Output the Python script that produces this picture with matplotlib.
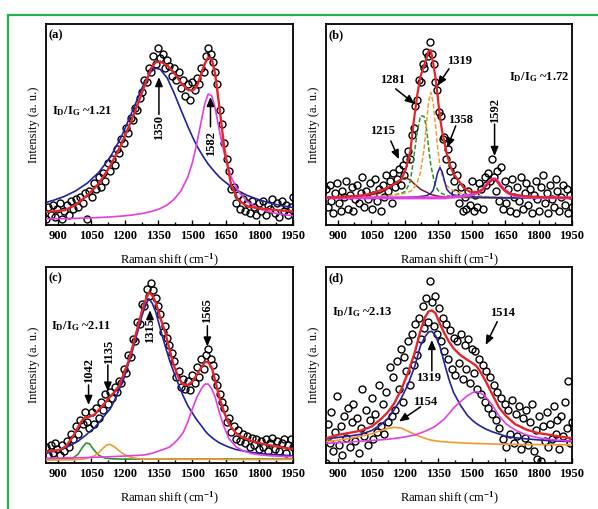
import numpy as np
import matplotlib.pyplot as plt
from matplotlib.patches import Rectangle

plt.rcParams["font.family"] = ["Liberation Serif", "DejaVu Serif"]
plt.rcParams["font.weight"] = "bold"
plt.rcParams["font.size"] = 9
plt.rcParams["mathtext.fontset"] = "custom"
plt.rcParams["mathtext.rm"] = "Liberation Serif:bold"
plt.rcParams["mathtext.it"] = "Liberation Serif:bold"
plt.rcParams["mathtext.bf"] = "Liberation Serif:bold"

# ---------------- panel (a) ----------------
counts_a = [3, 9, 5, 10, 4, 8, 11, 3, 7, 10,
            5, 12, 8, 13, 9, 14, 11, 16, 3, 17,
            14, 21, 18, 24, 19, 26, 22, 31, 27, 33,
            30, 38, 36, 43, 41, 48, 46, 53, 52, 58,
            57, 63, 66, 72, 71, 78, 76, 84, 80, 88,
            83, 85, 78, 82, 79, 74, 78, 72, 76, 68,
            72, 64, 70, 62, 71, 67, 73, 70, 78, 76,
            84, 88, 85, 81, 76, 70, 57, 50, 41, 33,
            27, 18, 19, 11, 15, 8, 13, 7, 11, 6,
            12, 9, 5, 11, 7, 12, 5, 10, 8, 13,
            6, 11, 4, 12, 7, 10, 5, 9, 14]
fit_x_a = [848, 879, 930, 981, 1032, 1083, 1134, 1185, 1236, 1287, 1317, 1338, 1358,
           1389, 1419, 1450, 1481, 1501, 1521, 1542, 1557, 1572, 1588, 1603, 1623,
           1644, 1674, 1705, 1746, 1797, 1848, 1899, 1950]
d_band_a = [11.2, 12.2, 14.2, 17.0, 20.8, 26.1, 33.6, 44.0, 57.3, 70.9, 76.4, 78.0, 77.4,
            73.1, 65.8, 57.3, 49.0, 44.0, 39.4, 35.4, 32.7, 30.3, 28.1, 26.1, 23.7,
            21.7, 19.1, 17.0, 14.7, 12.6, 10.9, 9.6, 8.7]
g_band_a = [3.1, 3.1, 3.2, 3.3, 3.5, 3.7, 4.0, 4.4, 5.0, 5.9, 6.7, 7.4, 8.2,
            10.0, 12.7, 16.9, 23.9, 30.9, 40.6, 52.3, 60.5, 65.2, 64.2, 58.0, 46.3,
            35.4, 23.9, 16.9, 11.6, 8.2, 6.4, 5.3, 4.6]
total_a = [6.5, 6.8, 7.3, 10.0, 14.7, 20.5, 29.2, 40.3, 53.8, 69.0, 78.0, 81.0, 81.3,
           79.4, 75.8, 70.8, 67.2, 66.8, 68.8, 75.5, 80.3, 83.4, 82.4, 75.0, 57.5,
           38.0, 20.0, 12.5, 9.3, 8.2, 7.7, 7.2, 6.8]

# ---------------- panel (b) ----------------
counts_b = [18, 9, 20, 12, 6, 16, 21, 11, 7, 17,
            14, 22, 8, 15, 19, 7, 13, 20, 11, 16,
            24, 9, 17, 13, 21, 8, 15, 23, 12, 18,
            7, 20, 14, 25, 17, 22, 11, 26, 19, 23,
            28, 20, 30, 25, 33, 37, 33, 45, 48, 59,
            62, 72, 71, 80, 78, 86, 84, 91, 85, 80,
            71, 67, 56, 54, 43, 44, 33, 38, 27, 30,
            22, 16, 25, 11, 19, 7, 14, 8, 17, 10,
            22, 7, 15, 9, 21, 18, 8, 24, 20, 26,
            22, 33, 24, 17, 27, 12, 29, 8, 22, 11,
            18, 7, 23, 14, 6, 19, 12, 24, 8, 16,
            21, 10, 18, 6, 15, 22, 13, 7, 19, 25,
            11, 16, 6, 20, 13, 9, 23, 17, 7, 14,
            20, 10, 18, 6, 15, 9]
fit_x_b = [848, 899, 950, 1001, 1052, 1083, 1113, 1144, 1164, 1185, 1205, 1226, 1241,
           1256, 1271, 1287, 1297, 1307, 1317, 1328, 1338, 1348, 1358, 1368, 1379,
           1389, 1404, 1419, 1440, 1465, 1491, 1521, 1547, 1567, 1583, 1593, 1603,
           1613, 1628, 1644, 1669, 1695, 1746, 1797, 1848, 1899, 1950]
peak1215_b = [13.9, 14.1, 14.4, 14.7, 15.1, 15.8, 17.2, 19.5, 21.4, 22.9, 23.5, 22.3, 20.7,
              19.3, 17.8, 16.9, 16.4, 15.8, 15.2, 14.9, 14.6, 14.4, 14.2, 14.1, 14.0,
              13.9, 13.9, 13.8, 13.8, 13.7, 13.7, 13.6, 13.6, 13.6, 13.6, 13.6, 13.6,
              13.6, 13.5, 13.5, 13.5, 13.5, 13.5, 13.5, 13.5, 13.5, 13.5]
peak1281_b = [13.5, 13.6, 13.7, 13.8, 14.0, 14.2, 14.4, 14.8, 15.2, 15.7, 16.8, 22.0, 33.5,
              46.0, 54.3, 54.0, 49.0, 39.0, 30.0, 24.0, 19.8, 17.5, 16.3, 15.6, 15.1,
              14.7, 14.3, 14.1, 13.9, 13.8, 13.7, 13.7, 13.6, 13.6, 13.6, 13.6, 13.6,
              13.6, 13.5, 13.5, 13.5, 13.5, 13.5, 13.5, 13.5, 13.5, 13.5]
peak1319_b = [13.5, 13.6, 13.7, 13.8, 14.0, 14.2, 14.4, 14.8, 15.1, 15.4, 15.9, 16.8, 18.3,
              21.0, 26.0, 37.7, 49.0, 61.0, 66.0, 61.0, 50.0, 38.5, 29.5, 24.5, 21.3,
              19.5, 18.0, 16.9, 16.0, 15.4, 15.0, 14.6, 14.4, 14.2, 14.1, 14.0, 14.0,
              13.9, 13.9, 13.8, 13.7, 13.7, 13.6, 13.6, 13.5, 13.5, 13.5]
peak1358_b = [13.5, 13.5, 13.5, 13.5, 13.5, 13.6, 13.6, 13.6, 13.6, 13.7, 13.7, 13.8, 13.9,
              14.0, 14.2, 14.4, 14.6, 15.0, 15.7, 17.3, 21.2, 26.0, 28.5, 26.5, 21.8,
              17.7, 15.8, 15.0, 14.6, 14.3, 14.1, 13.9, 13.8, 13.7, 13.7, 13.6, 13.6,
              13.6, 13.6, 13.6, 13.5, 13.5, 13.5, 13.5, 13.5, 13.5, 13.5]
peak1592_b = [13.5, 13.5, 13.5, 13.5, 13.5, 13.5, 13.5, 13.5, 13.5, 13.5, 13.5, 13.5, 13.5,
              13.5, 13.5, 13.5, 13.5, 13.5, 13.5, 13.5, 13.5, 13.5, 13.5, 13.5, 13.5,
              13.7, 13.8, 13.9, 14.1, 14.4, 14.7, 15.8, 17.5, 20.2, 22.0, 22.8, 23.0,
              22.3, 20.0, 17.8, 15.5, 14.6, 13.9, 13.7, 13.6, 13.5, 13.5]
total_b = [13.5, 13.8, 14.1, 14.5, 15.7, 16.9, 18.0, 19.7, 21.0, 22.7, 27.7, 37.0, 51.5,
           64.3, 73.8, 79.3, 82.6, 86.5, 87.0, 80.5, 73.5, 64.0, 54.0, 46.5, 40.8,
           35.5, 29.5, 25.5, 22.3, 18.5, 16.6, 16.3, 17.3, 19.8, 21.6, 22.5, 22.7,
           21.9, 19.5, 17.5, 15.8, 15.0, 14.2, 13.9, 13.7, 13.6, 13.5]

# ---------------- panel (c) ----------------
counts_c = [8, 4, 9, 5, 10, 7, 4, 9, 6, 11,
            8, 15, 12, 19, 15, 22, 20, 26, 21, 18,
            26, 20, 28, 23, 31, 27, 35, 30, 36, 33,
            39, 36, 42, 41, 48, 46, 55, 54, 63, 62,
            72, 71, 81, 80, 89, 85, 92, 88, 84, 80,
            76, 67, 70, 64, 60, 56, 52, 44, 47, 39,
            43, 38, 42, 37, 45, 41, 49, 44, 53, 48,
            55, 58, 53, 50, 44, 40, 35, 31, 28, 21,
            23, 16, 19, 12, 17, 11, 15, 10, 14, 8,
            13, 9, 12, 7, 11, 8, 12, 6, 10, 13,
            7, 11, 6, 10, 12, 5, 9, 12, 8]
fit_x_c = [848, 879, 909, 940, 970, 991, 1011, 1027, 1042, 1062, 1083, 1103, 1118,
           1134, 1154, 1175, 1195, 1215, 1236, 1256, 1276, 1292, 1307, 1322, 1338,
           1358, 1379, 1399, 1419, 1440, 1460, 1481, 1501, 1521, 1542, 1557, 1572,
           1588, 1603, 1623, 1644, 1664, 1695, 1726, 1766, 1807, 1848, 1899, 1950]
peak1042_c = [2.0, 2.0, 2.0, 2.1, 2.6, 4.5, 8.0, 10.2, 9.8, 6.6, 4.0, 2.8, 2.4,
              2.2, 2.1, 2.0, 2.0, 2.0, 2.0, 2.0, 2.0, 2.0, 2.0, 2.0, 2.0,
              2.0, 2.0, 2.0, 2.0, 2.0, 2.0, 2.0, 2.0, 2.0, 2.0, 2.0, 2.0,
              2.0, 2.0, 2.0, 2.0, 2.0, 2.0, 2.0, 2.0, 2.0, 2.0, 2.0, 2.0]
peak1135_c = [1.5, 1.5, 1.6, 1.6, 1.7, 1.8, 2.0, 2.3, 2.8, 3.5, 5.2, 7.6, 9.1,
              9.5, 8.2, 6.2, 4.5, 3.4, 2.7, 2.3, 2.1, 2.0, 2.0, 2.0, 2.0,
              2.0, 2.0, 1.9, 1.9, 1.9, 1.9, 1.9, 1.9, 1.9, 1.9, 1.9, 1.9,
              1.9, 1.9, 1.9, 1.8, 1.8, 1.8, 1.8, 1.8, 1.8, 1.8, 1.8, 1.8]
d_band_c = [4.9, 5.8, 6.8, 8.0, 9.8, 11.1, 12.9, 14.3, 15.9, 17.7, 20.4, 23.3, 25.4,
            27.5, 32.0, 37.6, 43.0, 50.3, 58.2, 66.5, 75.0, 80.5, 83.8, 81.5, 77.0,
            68.5, 60.0, 52.5, 46.0, 40.0, 34.2, 29.2, 25.5, 22.0, 18.9, 16.5, 14.6,
            13.0, 11.7, 10.2, 9.1, 8.1, 6.9, 6.2, 5.4, 4.8, 4.4, 4.0, 3.7]
g_band_c = [2.4, 2.5, 2.5, 2.6, 2.6, 2.7, 2.7, 2.8, 2.8, 2.9, 3.0, 3.0, 3.1,
            3.2, 3.3, 3.4, 3.5, 3.7, 3.8, 3.9, 4.0, 4.2, 4.6, 5.0, 5.6,
            6.4, 7.2, 8.1, 10.0, 12.5, 15.5, 21.0, 27.5, 33.5, 38.0, 40.2, 40.3,
            37.8, 33.5, 25.2, 18.0, 12.5, 8.3, 6.3, 4.8, 4.1, 3.7, 3.4, 3.2]
total_c = [5.8, 6.2, 6.6, 8.8, 13.8, 18.3, 22.0, 23.5, 23.6, 24.5, 27.0, 29.6, 31.7,
           33.8, 36.2, 39.5, 45.5, 51.5, 60.0, 68.7, 77.5, 83.0, 87.0, 85.5, 82.0,
           74.0, 67.0, 58.0, 49.5, 43.5, 40.0, 39.8, 41.5, 45.0, 49.0, 51.5, 51.5,
           48.5, 42.0, 33.0, 25.5, 20.0, 15.3, 13.0, 11.2, 10.0, 9.0, 8.0, 7.1]

# ---------------- panel (d) ----------------
counts_d = [0, 20, 10, 26, 6, 16, 34, 9, 19, 4,
            24, 13, 28, 8, 21, 30, 11, 23, 5, 18,
            38, 14, 27, 9, 22, 33, 12, 25, 16, 40,
            19, 30, 15, 36, 21, 49, 24, 44, 27, 52,
            38, 58, 31, 54, 47, 62, 40, 66, 50, 71,
            55, 74, 63, 80, 69, 84, 72, 93, 82, 70,
            85, 66, 79, 62, 74, 57, 71, 53, 68, 48,
            64, 45, 62, 51, 66, 43, 60, 48, 63, 41,
            58, 46, 57, 38, 53, 35, 50, 31, 47, 28,
            44, 25, 40, 22, 36, 18, 33, 12, 30, 8,
            27, 15, 32, 10, 25, 14, 29, 7, 23, 13,
            27, 9, 21, 30, 6, 17, 2, 24, 1, 19,
            11, 26, 8, 20, 12, 29, 15, 22, 7, 24,
            14, 31, 18, 42, 10, 21]
fit_x_d = [848, 899, 950, 1001, 1052, 1093, 1124, 1154, 1185, 1215, 1246, 1271, 1292,
           1307, 1322, 1338, 1358, 1379, 1399, 1419, 1450, 1481, 1506, 1521, 1537,
           1562, 1593, 1623, 1654, 1695, 1746, 1797, 1848, 1899, 1950]
peak1154_d = [10.9, 11.6, 12.4, 13.6, 14.9, 16.5, 17.6, 18.2, 17.8, 16.2, 14.6, 13.4, 12.6,
              12.0, 11.6, 11.3, 11.0, 10.8, 10.6, 10.5, 10.3, 10.1, 10.0, 9.9, 9.9,
              9.8, 9.7, 9.6, 9.6, 9.5, 9.4, 9.4, 9.3, 9.3, 9.2]
d_band_d = [12.2, 13.0, 13.7, 14.6, 16.5, 19.5, 22.5, 27.3, 33.0, 40.0, 49.5, 59.8, 64.5,
            66.8, 67.2, 65.0, 59.5, 50.5, 42.5, 36.0, 29.5, 24.3, 21.5, 20.2, 19.0,
            17.4, 15.9, 14.8, 13.6, 12.9, 12.3, 11.8, 11.4, 11.1, 10.9]
g_band_d = [10.0, 10.3, 10.7, 11.1, 11.5, 11.8, 12.1, 12.5, 13.0, 13.6, 14.3, 15.3, 16.2,
            17.0, 17.8, 18.8, 20.6, 22.6, 25.2, 28.0, 31.3, 34.3, 36.0, 36.4, 36.0,
            34.0, 29.5, 24.0, 20.0, 16.8, 14.3, 12.9, 12.0, 11.5, 11.2]
total_d = [12.6, 14.3, 15.3, 16.4, 18.6, 22.3, 25.8, 30.5, 37.5, 46.0, 56.5, 67.5, 74.5,
           77.3, 77.8, 76.5, 71.0, 66.0, 61.8, 58.5, 55.0, 52.6, 50.8, 49.5, 47.0,
           42.0, 35.0, 28.3, 24.0, 19.8, 17.0, 15.3, 14.4, 13.4, 12.6]

major_ticks = [900, 1050, 1200, 1350, 1500, 1650, 1800, 1950]
minor_ticks = [975, 1125, 1275, 1425, 1575, 1725, 1875]

RED = "#e3262b"
BLUE = "#22229c"
MAGENTA = "#e23fe0"
GREEN = "#2a952a"
ORANGE = "#f29a30"
BROWN = "#7a1d1d"


def setup(ax, tag):
    ax.set_xlim(848, 1950)
    ax.set_ylim(0, 100)
    ax.set_xticks(major_ticks)
    ax.set_xticks(minor_ticks, minor=True)
    ax.set_yticks([])
    ax.tick_params(axis="x", which="both", direction="in", labelsize=9, pad=3.5, width=1)
    ax.tick_params(axis="x", which="major", length=3.5)
    ax.tick_params(axis="x", which="minor", length=2)
    for sp in ax.spines.values():
        sp.set_linewidth(1.3)
    ax.set_xlabel("Raman shift (cm$^{-1}$)", fontsize=9, labelpad=7)
    ax.set_ylabel("Intensity (a. u.)", fontsize=9, labelpad=4)
    ax.text(0.012, 0.975, tag, transform=ax.transAxes, va="top", ha="left")


def scatter(ax, counts):
    shift = np.linspace(848, 1950, len(counts))
    ax.plot(shift, counts, "o", mfc="none", mec="black", ms=5, mew=1.0, zorder=2)


def arrow(ax, tip, tail):
    ax.annotate("", xy=tip, xytext=tail,
                arrowprops=dict(arrowstyle="-|>,head_length=0.6,head_width=0.25",
                                color="black", lw=1.1, shrinkA=0, shrinkB=0), zorder=6)


fig = plt.figure(figsize=(5.98, 5.09), dpi=100)
fig.add_artist(Rectangle((8 / 598, -0.1), 2.0, 0.1 + 1 - 15 / 509, transform=fig.transFigure,
                         fill=False, edgecolor="#22b14c", lw=1.6))

# (a)
ax = fig.add_axes([0.0769, 0.5580, 0.4130, 0.3949])
setup(ax, "(a)")
scatter(ax, counts_a)
ax.plot(fit_x_a, d_band_a, color=BLUE, lw=1.2, zorder=3)
ax.plot(fit_x_a, g_band_a, color=MAGENTA, lw=1.2, zorder=3)
ax.plot(fit_x_a, total_a, color=RED, lw=1.7, zorder=4)
ax.text(0.024, 0.567, "I$_{\\rm D}$/I$_{\\rm G}$ ~1.21", transform=ax.transAxes, va="center")
arrow(ax, (1352, 73.6), (1352, 55))
ax.text(1352, 48.3, "1350", rotation=90, ha="center", va="center")
arrow(ax, (1582, 63.7), (1582, 48.8))
ax.text(1585, 40.5, "1582", rotation=90, ha="center", va="center")

# (b)
ax = fig.add_axes([0.5452, 0.5580, 0.4114, 0.3949])
setup(ax, "(b)")
scatter(ax, counts_b)
ax.plot(fit_x_b, peak1215_b, color=BROWN, lw=1.1, zorder=3)
ax.plot(fit_x_b, peak1281_b, color=GREEN, lw=1.1, ls=(0, (3, 1.5)), zorder=3)
ax.plot(fit_x_b, peak1319_b, color=ORANGE, lw=1.1, ls=(0, (3, 1.5)), zorder=3)
ax.plot(fit_x_b, peak1358_b, color=BLUE, lw=1.1, zorder=3)
ax.plot(fit_x_b, peak1592_b, color=MAGENTA, lw=2.2, zorder=3)
ax.plot(fit_x_b, total_b, color=RED, lw=1.6, zorder=4)
ax.text(1668, 73.5, "I$_{\\rm D}$/I$_{\\rm G}$ ~1.72", va="center", ha="left")
ax.text(1100, 46.8, "1215", ha="center", va="center")
arrow(ax, (1175, 32.7), (1138, 41.8))
ax.text(1145, 72.3, "1281", ha="center", va="center")
arrow(ax, (1245, 60.2), (1160, 67.7))
ax.text(1444, 81.8, "1319", ha="center", va="center")
arrow(ax, (1347, 69.3), (1399, 77.7))
ax.text(1451, 52.3, "1358", ha="center", va="center")
arrow(ax, (1391, 38.5), (1429, 49.3))
ax.text(1603, 57, "1592", rotation=90, ha="center", va="center")
arrow(ax, (1603, 34.3), (1603, 50.2))

# (c)
ax = fig.add_axes([0.0769, 0.0904, 0.4130, 0.3851])
setup(ax, "(c)")
scatter(ax, counts_c)
ax.plot(fit_x_c, peak1042_c, color=GREEN, lw=1.2, zorder=3)
ax.plot(fit_x_c, peak1135_c, color=ORANGE, lw=1.2, zorder=3)
ax.plot(fit_x_c, d_band_c, color=BLUE, lw=1.2, zorder=3)
ax.plot(fit_x_c, g_band_c, color=MAGENTA, lw=1.2, zorder=3)
ax.plot(fit_x_c, total_c, color=RED, lw=1.7, zorder=4)
ax.text(0.02, 0.696, "I$_{\\rm D}$/I$_{\\rm G}$ ~2.11", transform=ax.transAxes, va="center")
ax.text(1040, 47, "1042", rotation=90, ha="center", va="center")
arrow(ax, (1038, 29.6), (1038, 39.8))
ax.text(1128, 56.5, "1135", rotation=90, ha="center", va="center")
arrow(ax, (1124, 36.4), (1124, 50))
ax.text(1312, 67.5, "1315", rotation=90, ha="center", va="center")
arrow(ax, (1312, 78), (1312, 74))
ax.text(1568, 78, "1565", rotation=90, ha="center", va="center")
arrow(ax, (1568, 59.4), (1568, 70))

# (d)
ax = fig.add_axes([0.5452, 0.0904, 0.4114, 0.3851])
setup(ax, "(d)")
scatter(ax, counts_d)
ax.plot(fit_x_d, peak1154_d, color=ORANGE, lw=1.2, zorder=3)
ax.plot(fit_x_d, d_band_d, color=BLUE, lw=1.2, zorder=3)
ax.plot(fit_x_d, g_band_d, color=MAGENTA, lw=1.2, zorder=3)
ax.plot(fit_x_d, total_d, color=RED, lw=1.7, zorder=4)
ax.text(0.026, 0.772, "I$_{\\rm D}$/I$_{\\rm G}$ ~2.13", transform=ax.transAxes, va="center")
ax.text(1638, 76.4, "1514", ha="center", va="center")
arrow(ax, (1563, 60.2), (1615, 72.1))
ax.text(1309, 43.2, "1319", ha="center", va="center")
arrow(ax, (1322, 62.8), (1322, 47))
ax.text(1294, 31.0, "1154", ha="center", va="center")
arrow(ax, (1175, 21.1), (1272, 28.7))

fig.savefig("out.png", dpi=100)
